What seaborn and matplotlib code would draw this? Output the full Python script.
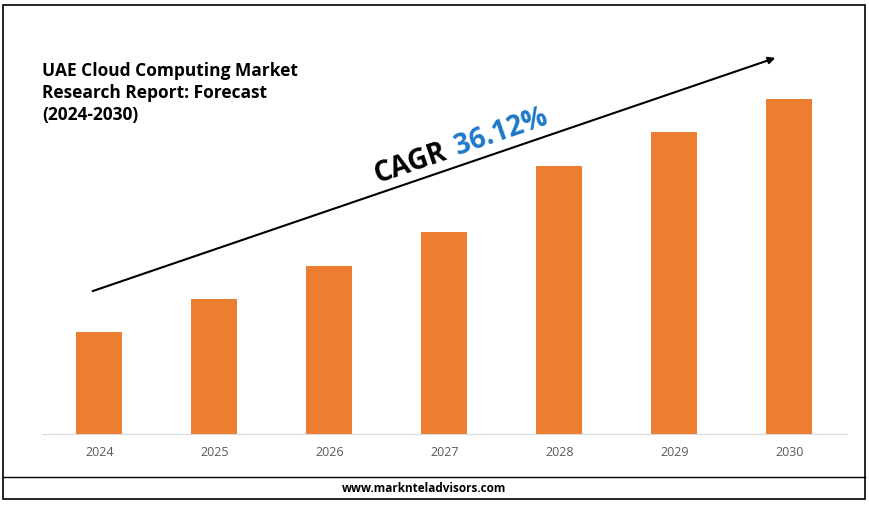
import matplotlib
matplotlib.use("Agg")
import matplotlib.pyplot as plt
import seaborn as sns
import pandas as pd
from matplotlib.patches import Rectangle

years = ["2024", "2025", "2026", "2027", "2028", "2029", "2030"]
values = [102, 135, 168, 202, 268, 302, 335]

W, H = 870, 506
fig = plt.figure(figsize=(W/100, H/100), dpi=100)
fig.patch.set_facecolor("white")
ax = fig.add_axes([42/W, (H-435)/H, 805/W, 390/H])
df = pd.DataFrame({"year": years, "value": values})
sns.barplot(data=df, x="year", y="value", color="#ED7D31", saturation=1, width=0.4, ax=ax)
ax.set_ylim(0, 390)
ax.set_xlim(-0.5, 6.5)
for s in ["top", "right", "left"]:
    ax.spines[s].set_visible(False)
ax.spines["bottom"].set_color("#d9d9d9")
ax.set_yticks([])
ax.set_xlabel(""); ax.set_ylabel("")
ax.tick_params(axis="x", length=0, labelsize=9, colors="#595959", pad=8)
for t in ax.get_xticklabels():
    t.set_fontfamily("Open Sans")

def fx(p): return p / W
def fy(p): return 1 - p / H

fig.add_artist(Rectangle((fx(3), fy(500)), fx(862), 494/H, transform=fig.transFigure,
                         fill=False, edgecolor="black", lw=1.2))
fig.add_artist(plt.Line2D([fx(3), fx(865)], [fy(478), fy(478)], transform=fig.transFigure, color="black", lw=1))
fig.text(fx(424), fy(489), "www.marknteladvisors.com", ha="center", va="center",
         fontsize=8.5, fontweight="bold", family="Open Sans")

fig.text(fx(42), fy(62), "UAE Cloud Computing Market\nResearch Report: Forecast\n(2024-2030)",
         ha="left", va="top", fontsize=12.5, fontweight="bold", family="Open Sans", linespacing=1.3)

fig.add_artist(matplotlib.patches.FancyArrowPatch((fx(90), fy(293)), (fx(778), fy(58)),
               transform=fig.transFigure, arrowstyle="-|>", mutation_scale=10, color="black", lw=1.5))
fig.text(fx(410), fy(164), "CAGR", rotation=19, ha="center", va="center", fontsize=20,
         fontweight="bold", family="Open Sans", rotation_mode="anchor")
fig.text(fx(501), fy(132), "36.12%", rotation=19, ha="center", va="center", fontsize=20,
         fontweight="bold", family="Open Sans", color="#1F78C8", rotation_mode="anchor")

fig.savefig("out.png", dpi=100)
